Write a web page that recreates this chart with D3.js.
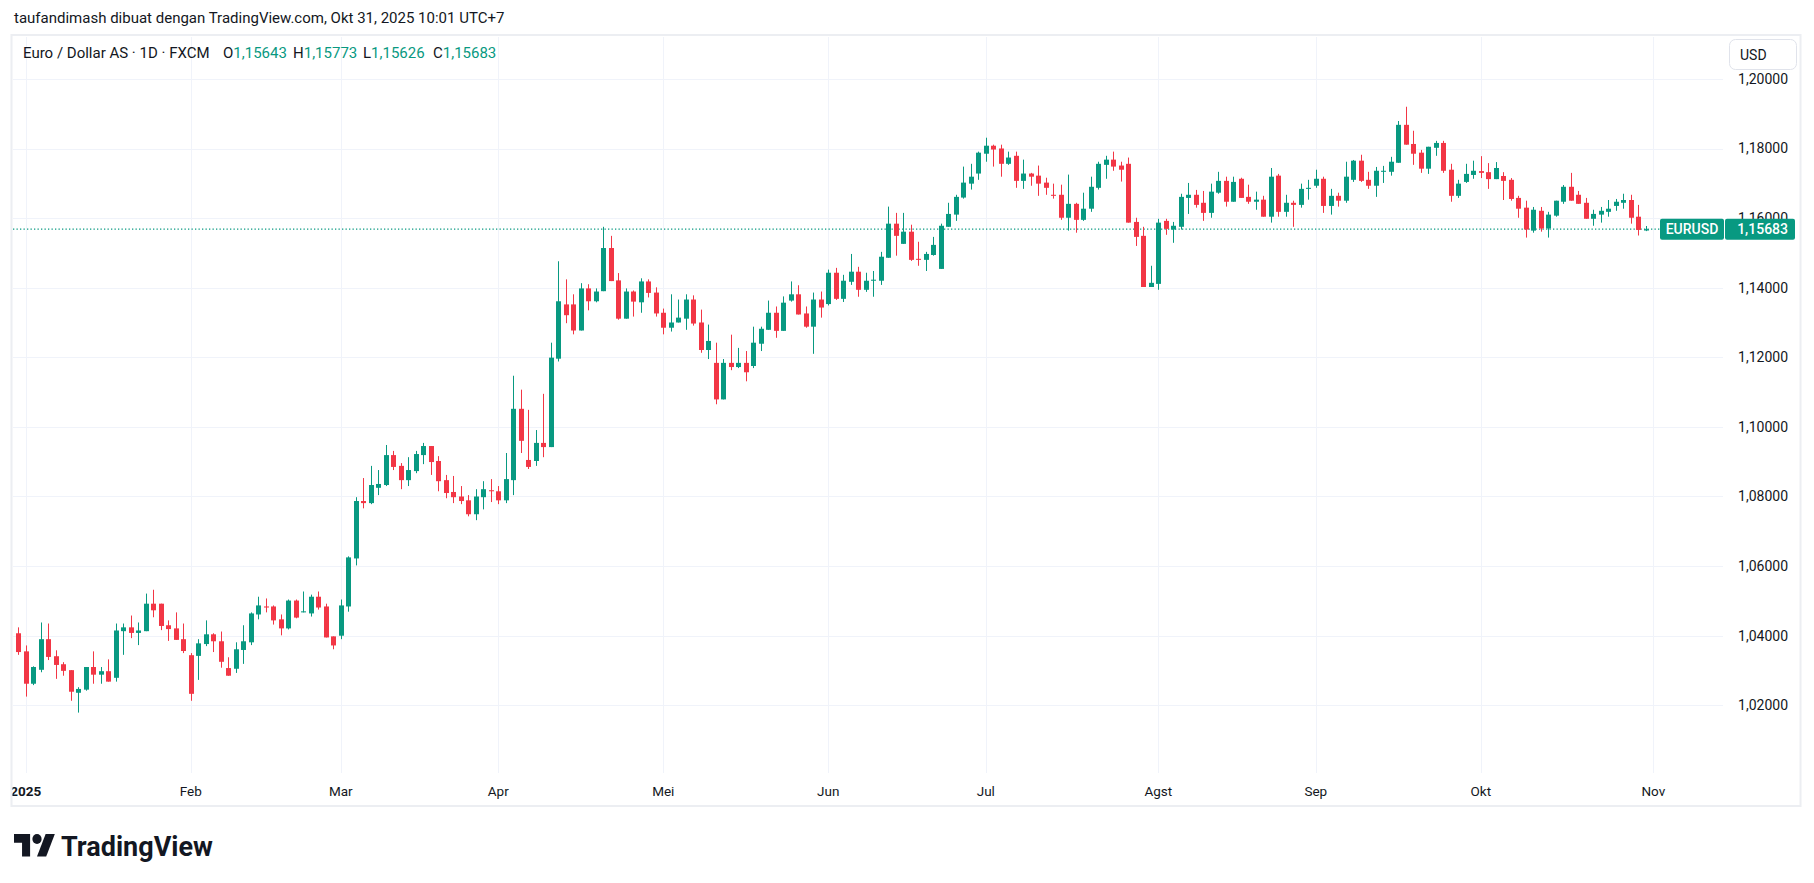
<!DOCTYPE html>
<html>
<head>
<meta charset="utf-8">
<script src="https://cdn.jsdelivr.net/npm/d3@7"></script>
<style>
  html, body { margin: 0; padding: 0; background: #ffffff; }
  svg { display: block; font-family: Roboto, "Noto Sans", sans-serif; }
</style>
</head>
<body>
<div id="chart"></div>
<script>
// EUR/USD harian, 31 Des 2024 - 31 Okt 2025
var opens = [
  1.0407,1.0355,1.0262,1.0302,1.0390,1.0341,1.0318,1.0301,1.0236,1.0245,
  1.0310,1.0288,1.0298,1.0279,1.0413,1.0424,1.0408,1.0413,1.0492,1.0492,
  1.0430,1.0421,1.0390,1.0344,1.0342,1.0376,1.0404,1.0384,1.0307,1.0305,
  1.0359,1.0381,1.0461,1.0484,1.0484,1.0447,1.0421,1.0501,1.0467,1.0464,
  1.0512,1.0484,1.0398,1.0400,1.0484,1.0622,1.0787,1.0781,1.0825,1.0833,
  1.0919,1.0888,1.0847,1.0873,1.0919,1.0945,1.0902,1.0847,1.0813,1.0800,
  1.0789,1.0749,1.0798,1.0818,1.0815,1.0789,1.0847,1.1052,1.0905,1.0902,
  1.0954,1.0942,1.1196,1.1352,1.1352,1.1277,1.1398,1.1361,1.1390,1.1514,
  1.1421,1.1311,1.1389,1.1358,1.1418,1.1386,1.1328,1.1285,1.1300,1.1311,
  1.1366,1.1300,1.1221,1.1184,1.1079,1.1184,1.1172,1.1184,1.1175,1.1239,
  1.1279,1.1328,1.1276,1.1363,1.1381,1.1326,1.1288,1.1366,1.1353,1.1443,
  1.1368,1.1417,1.1446,1.1394,1.1420,1.1420,1.1486,1.1584,1.1526,1.1561,
  1.1483,1.1480,1.1494,1.1454,1.1575,1.1610,1.1659,1.1699,1.1728,1.1785,
  1.1808,1.1800,1.1756,1.1779,1.1707,1.1728,1.1722,1.1702,1.1667,1.1667,
  1.1601,1.1641,1.1595,1.1627,1.1687,1.1753,1.1768,1.1751,1.1756,1.1589,
  1.1549,1.1402,1.1411,1.1592,1.1567,1.1575,1.1658,1.1667,1.1644,1.1615,
  1.1673,1.1707,1.1647,1.1713,1.1661,1.1647,1.1653,1.1604,1.1722,1.1618,
  1.1644,1.1638,1.1684,1.1693,1.1713,1.1635,1.1664,1.1650,1.1710,1.1765,
  1.1710,1.1693,1.1733,1.1733,1.1759,1.1868,1.1813,1.1788,1.1742,1.1802,
  1.1816,1.1739,1.1664,1.1704,1.1724,1.1735,1.1732,1.1712,1.1721,1.1710,
  1.1658,1.1630,1.1564,1.1621,1.1570,1.1607,1.1647,1.1690,1.1667,1.1644,
  1.1598,1.1610,1.1618,1.1635,1.1644,1.1652,1.1604,1.15643
];
var highs = [
  1.0424,1.0372,1.0312,1.0438,1.0435,1.0358,1.0324,1.0301,1.0252,1.0310,
  1.0355,1.0310,1.0332,1.0435,1.0435,1.0458,1.0438,1.0521,1.0532,1.0492,
  1.0444,1.0467,1.0435,1.0350,1.0390,1.0444,1.0407,1.0412,1.0338,1.0381,
  1.0430,1.0467,1.0512,1.0507,1.0487,1.0461,1.0504,1.0504,1.0527,1.0518,
  1.0527,1.0492,1.0398,1.0504,1.0628,1.0798,1.0853,1.0888,1.0876,1.0948,
  1.0931,1.0896,1.0913,1.0931,1.0954,1.0945,1.0916,1.0862,1.0859,1.0830,
  1.0804,1.0821,1.0844,1.0850,1.0830,1.0925,1.1147,1.1107,1.1049,1.0991,
  1.1095,1.1242,1.1476,1.1424,1.1381,1.1413,1.1410,1.1398,1.1575,1.1549,
  1.1442,1.1398,1.1392,1.1427,1.1424,1.1401,1.1340,1.1381,1.1366,1.1381,
  1.1378,1.1337,1.1294,1.1242,1.1195,1.1265,1.1227,1.1218,1.1288,1.1288,
  1.1363,1.1346,1.1375,1.1418,1.1407,1.1346,1.1386,1.1389,1.1452,1.1457,
  1.1437,1.1497,1.1460,1.1443,1.1448,1.1503,1.1633,1.1615,1.1615,1.1581,
  1.1532,1.1503,1.1546,1.1584,1.1644,1.1667,1.1748,1.1756,1.1791,1.1831,
  1.1811,1.1811,1.1791,1.1791,1.1768,1.1730,1.1751,1.1716,1.1699,1.1696,
  1.1725,1.1644,1.1673,1.1719,1.1762,1.1779,1.1791,1.1762,1.1774,1.1601,
  1.1575,1.1463,1.1598,1.1598,1.1589,1.1670,1.1701,1.1681,1.1678,1.1699,
  1.1733,1.1719,1.1719,1.1716,1.1696,1.1676,1.1664,1.1744,1.1727,1.1667,
  1.1650,1.1699,1.1710,1.1739,1.1719,1.1684,1.1673,1.1762,1.1767,1.1782,
  1.1733,1.1747,1.1750,1.1776,1.1879,1.1920,1.1851,1.1796,1.1805,1.1822,
  1.1822,1.1756,1.1710,1.1756,1.1765,1.1778,1.1758,1.1761,1.1732,1.1715,
  1.1664,1.1650,1.1632,1.1632,1.1618,1.1650,1.1695,1.1730,1.1678,1.1658,
  1.1624,1.1632,1.1652,1.1655,1.1670,1.1667,1.1638,1.15773
];
var lows = [
  1.0345,1.0225,1.0258,1.0295,1.0330,1.0276,1.0285,1.0213,1.0179,1.0242,
  1.0262,1.0262,1.0268,1.0268,1.0345,1.0393,1.0373,1.0413,1.0453,1.0416,
  1.0385,1.0388,1.0350,1.0213,1.0273,1.0370,1.0353,1.0308,1.0285,1.0293,
  1.0319,1.0373,1.0447,1.0467,1.0432,1.0401,1.0418,1.0450,1.0467,1.0455,
  1.0475,1.0395,1.0361,1.0390,1.0469,1.0602,1.0766,1.0778,1.0804,1.0830,
  1.0876,1.0821,1.0830,1.0867,1.0893,1.0862,1.0815,1.0795,1.0781,1.0778,
  1.0743,1.0732,1.0763,1.0784,1.0778,1.0781,1.0804,1.0925,1.0879,1.0888,
  1.0913,1.0942,1.1188,1.1298,1.1266,1.1277,1.1335,1.1358,1.1390,1.1419,
  1.1308,1.1311,1.1317,1.1328,1.1372,1.1317,1.1266,1.1274,1.1300,1.1279,
  1.1291,1.1213,1.1195,1.1065,1.1079,1.1163,1.1169,1.1131,1.1169,1.1218,
  1.1279,1.1256,1.1276,1.1360,1.1323,1.1285,1.1210,1.1314,1.1349,1.1365,
  1.1359,1.1408,1.1374,1.1388,1.1374,1.1408,1.1486,1.1492,1.1526,1.1477,
  1.1463,1.1448,1.1492,1.1454,1.1575,1.1592,1.1656,1.1682,1.1710,1.1762,
  1.1748,1.1719,1.1753,1.1687,1.1684,1.1693,1.1664,1.1667,1.1656,1.1595,
  1.1564,1.1558,1.1592,1.1618,1.1682,1.1713,1.1736,1.1705,1.1587,1.1520,
  1.1402,1.1402,1.1394,1.1552,1.1529,1.1567,1.1612,1.1630,1.1592,1.1601,
  1.1670,1.1633,1.1647,1.1658,1.1641,1.1624,1.1604,1.1587,1.1604,1.1604,
  1.1575,1.1630,1.1653,1.1687,1.1615,1.1610,1.1633,1.1644,1.1704,1.1704,
  1.1684,1.1661,1.1701,1.1722,1.1759,1.1811,1.1753,1.1730,1.1727,1.1779,
  1.1730,1.1647,1.1658,1.1701,1.1713,1.1715,1.1684,1.1712,1.1652,1.1650,
  1.1601,1.1544,1.1558,1.1561,1.1544,1.1604,1.1641,1.1650,1.1641,1.1598,
  1.1578,1.1587,1.1604,1.1621,1.1627,1.1584,1.1550,1.15626
];
var closes = [
  1.0353,1.0262,1.0310,1.0390,1.0339,1.0316,1.0299,1.0239,1.0247,1.0310,
  1.0288,1.0298,1.0268,1.0415,1.0424,1.0408,1.0415,1.0492,1.0473,1.0428,
  1.0419,1.0388,1.0356,1.0233,1.0378,1.0404,1.0384,1.0325,1.0285,1.0361,
  1.0384,1.0464,1.0487,1.0481,1.0444,1.0421,1.0501,1.0452,1.0470,1.0512,
  1.0481,1.0395,1.0372,1.0487,1.0625,1.0787,1.0781,1.0833,1.0836,1.0919,
  1.0885,1.0847,1.0876,1.0922,1.0945,1.0899,1.0844,1.0810,1.0798,1.0787,
  1.0749,1.0800,1.0821,1.0815,1.0789,1.0850,1.1052,1.0960,1.0885,1.0954,
  1.0942,1.1199,1.1361,1.1321,1.1277,1.1398,1.1361,1.1389,1.1514,1.1419,
  1.1311,1.1389,1.1360,1.1418,1.1385,1.1326,1.1285,1.1300,1.1314,1.1366,
  1.1297,1.1221,1.1247,1.1079,1.1184,1.1172,1.1184,1.1157,1.1242,1.1282,
  1.1328,1.1276,1.1357,1.1381,1.1323,1.1288,1.1366,1.1343,1.1443,1.1368,
  1.1420,1.1446,1.1394,1.1420,1.1423,1.1489,1.1584,1.1549,1.1561,1.1480,
  1.1480,1.1497,1.1523,1.1578,1.1612,1.1661,1.1702,1.1719,1.1788,1.1808,
  1.1797,1.1756,1.1774,1.1707,1.1728,1.1719,1.1699,1.1687,1.1664,1.1601,
  1.1641,1.1595,1.1627,1.1690,1.1756,1.1768,1.1748,1.1739,1.1587,1.1546,
  1.1402,1.1414,1.1587,1.1569,1.1578,1.1661,1.1667,1.1638,1.1615,1.1676,
  1.1707,1.1647,1.1704,1.1658,1.1647,1.1653,1.1604,1.1719,1.1618,1.1644,
  1.1638,1.1684,1.1687,1.1713,1.1635,1.1664,1.1650,1.1719,1.1765,1.1707,
  1.1693,1.1736,1.1736,1.1762,1.1868,1.1811,1.1785,1.1742,1.1805,1.1816,
  1.1736,1.1664,1.1699,1.1727,1.1736,1.1730,1.1712,1.1744,1.1707,1.1655,
  1.1627,1.1567,1.1624,1.1570,1.1610,1.1650,1.1690,1.1650,1.1641,1.1598,
  1.1612,1.1621,1.1627,1.1647,1.1652,1.1601,1.1566,1.15683
];
var priceTicks = [1.02, 1.04, 1.06, 1.08, 1.10, 1.12, 1.14, 1.16, 1.18, 1.20];
var monthLabels = ["2025", "Feb", "Mar", "Apr", "Mei", "Jun", "Jul", "Agst", "Sep", "Okt", "Nov", "Des"];

var W = 1814, H = 883;
var green = "#089981", red = "#f23645", textCol = "#131722", gridCol = "#f0f3fa";

// hari bursa (Senin-Jumat, 1 Jan libur) sampai 3 Nov untuk label sumbu
var days = d3.timeDay.range(new Date(2024, 11, 31), new Date(2025, 10, 4)).filter(function(d) {
	var w = d.getDay();
	return w > 0 && w < 6 && !(d.getMonth() == 0 && d.getDate() == 1);
});

var x = d3.scaleLinear().domain([0, 218]).range([18.3, 1653.3]);
var y = d3.scaleLinear().domain([1.02, 1.20]).range([705.3, 78.9]);
var fmt = function(v) { return d3.format(".5f")(v).replace(".", ","); };

var svg = d3.select("#chart").append("svg").attr("width", W).attr("height", H);
svg.append("rect").attr("width", W).attr("height", H).attr("fill", "#fff");

// judul atas
svg.append("text").attr("x", 14).attr("y", 23).attr("font-size", 15).attr("fill", textCol)
	.text("taufandimash dibuat dengan TradingView.com, Okt 31, 2025 10:01 UTC+7");

// bingkai
svg.append("rect").attr("x", 11.5).attr("y", 35).attr("width", 1789).attr("height", 771)
	.attr("fill", "#fff").attr("stroke", "#eceef2").attr("stroke-width", 2);

// grid horizontal
svg.append("g").selectAll("line").data(priceTicks).enter().append("line")
	.attr("x1", 13).attr("x2", 1723)
	.attr("y1", function(d) { return Math.round(y(d)) + 0.5; })
	.attr("y2", function(d) { return Math.round(y(d)) + 0.5; })
	.attr("stroke", gridCol).attr("stroke-width", 1);

// awal bulan
var monthTicks = [];
for (var i = 1; i < days.length; i++) {
	if (days[i].getMonth() != days[i - 1].getMonth()) monthTicks.push({ i: i, label: monthLabels[days[i].getMonth()] });
}
svg.append("g").selectAll("line").data(monthTicks).enter().append("line")
	.attr("x1", function(d) { return Math.round(x(d.i)) + 0.5; })
	.attr("x2", function(d) { return Math.round(x(d.i)) + 0.5; })
	.attr("y1", 37).attr("y2", 773)
	.attr("stroke", gridCol).attr("stroke-width", 1);

svg.append("clipPath").attr("id", "frameClip").append("rect")
	.attr("x", 12.5).attr("y", 36).attr("width", 1787).attr("height", 769);
svg.append("g").attr("clip-path", "url(#frameClip)")
	.selectAll("text").data(monthTicks).enter().append("text")
	.attr("x", function(d) { return x(d.i); }).attr("y", 796)
	.attr("text-anchor", "middle").attr("font-size", 13.5).attr("fill", textCol)
	.attr("font-weight", function(d) { return d.label == "2025" ? "bold" : "normal"; })
	.text(function(d) { return d.label; });

// garis harga terakhir
var last = closes.length - 1;
svg.append("line").attr("x1", 13).attr("x2", 1660)
	.attr("y1", y(closes[last])).attr("y2", y(closes[last]))
	.attr("stroke", green).attr("stroke-width", 1.2).attr("stroke-dasharray", "1.3 2.2");

// lilin
var idx = d3.range(closes.length);
var candles = svg.append("g");
candles.selectAll("line").data(idx).enter().append("line")
	.attr("x1", function(i) { return Math.round(x(i)) + 0.5; })
	.attr("x2", function(i) { return Math.round(x(i)) + 0.5; })
	.attr("y1", function(i) { return y(highs[i]); })
	.attr("y2", function(i) { return y(lows[i]); })
	.attr("stroke", function(i) { return closes[i] >= opens[i] ? green : red; })
	.attr("stroke-width", 1);
candles.selectAll("rect").data(idx).enter().append("rect")
	.attr("x", function(i) { return Math.round(x(i)) - 2; })
	.attr("width", 5)
	.attr("y", function(i) { return y(Math.max(opens[i], closes[i])); })
	.attr("height", function(i) { return Math.max(1, Math.abs(y(opens[i]) - y(closes[i]))); })
	.attr("fill", function(i) { return closes[i] >= opens[i] ? green : red; });

// label harga kanan
svg.append("g").selectAll("text").data(priceTicks).enter().append("text")
	.attr("x", 1788).attr("y", function(d) { return y(d); }).attr("dy", "0.35em")
	.attr("text-anchor", "end").attr("font-size", 14).attr("fill", textCol)
	.text(function(d) { return fmt(d); });

// tag EURUSD
var ty = y(closes[last]);
svg.append("rect").attr("x", 1660).attr("y", ty - 10.5).attr("width", 64).attr("height", 21)
	.attr("rx", 2).attr("fill", green);
svg.append("rect").attr("x", 1725).attr("y", ty - 10.5).attr("width", 70).attr("height", 21)
	.attr("rx", 2).attr("fill", green);
svg.append("text").attr("x", 1692).attr("y", ty).attr("dy", "0.36em").attr("text-anchor", "middle")
	.attr("font-size", 14).attr("font-weight", 500).attr("fill", "#fff").text("EURUSD");
svg.append("text").attr("x", 1788).attr("y", ty).attr("dy", "0.36em").attr("text-anchor", "end")
	.attr("font-size", 14).attr("font-weight", 500).attr("fill", "#fff").text(fmt(closes[last]));

// tombol USD
svg.append("rect").attr("x", 1729.5).attr("y", 39.5).attr("width", 67).attr("height", 30)
	.attr("rx", 6).attr("fill", "#fff").attr("stroke", "#e0e3eb");
svg.append("text").attr("x", 1740).attr("y", 55).attr("dy", "0.35em").attr("font-size", 14)
	.attr("fill", textCol).text("USD");

// legenda OHLC
var legend = svg.append("text").attr("x", 23).attr("y", 53).attr("dy", "0.35em")
	.attr("font-size", 15).attr("fill", textCol);
legend.append("tspan").text("Euro / Dollar AS \u00b7 1D \u00b7 FXCM");
var ohlc = [["O", opens[last]], ["H", highs[last]], ["L", lows[last]], ["C", closes[last]]];
var ohlcX = [223, 293, 363, 433];
ohlc.forEach(function(p, k) {
	legend.append("tspan").attr("x", ohlcX[k]).text(p[0]);
	legend.append("tspan").attr("fill", green).text(fmt(p[1]));
});

// logo TradingView
var logo = svg.append("g").attr("transform", "translate(14,829) scale(1.15,1.25)").attr("fill", "#131722");
logo.append("path").attr("d", "M14 22H7V11H0V4h14v18z");
logo.append("path").attr("d", "M28 22h-8l7.5-18h8L28 22z");
logo.append("circle").attr("cx", 20).attr("cy", 8).attr("r", 4);
svg.append("text").attr("x", 61).attr("y", 856).attr("font-size", 27).attr("font-weight", "bold")
	.attr("fill", "#131722").text("TradingView");
</script>
</body>
</html>
